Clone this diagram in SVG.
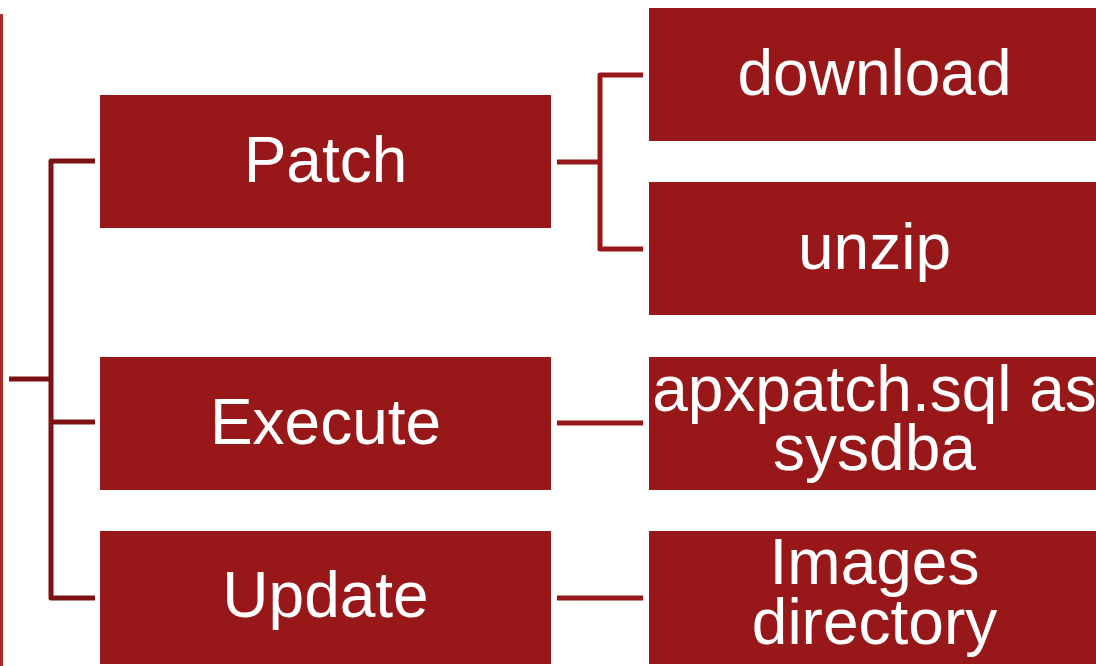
<svg xmlns="http://www.w3.org/2000/svg" width="1096" height="666" viewBox="0 0 1096 666">
<style>
.box{fill:#98181a}
.t{font-family:"Liberation Sans",Arial,sans-serif;font-size:64px;fill:#ffffff;text-anchor:middle}
.cl{fill:none;stroke:#7c1213;stroke-width:5;stroke-linejoin:round}
.cr{fill:none;stroke:#98181a;stroke-width:5;stroke-linejoin:round}
</style>
<rect x="0" y="0" width="1096" height="666" fill="#ffffff"/>
<g id="root"><rect x="0" y="14" width="3" height="652" fill="#a82a2a"/></g>
<g id="connectors">
<path class="cl" d="M9 379 H51 M95 161 H51 V598 H95 M51 422 H95"/>
<path class="cr" d="M557 162 H600 M643 75 H600 V249 H643"/>
<path class="cr" d="M557 423 H643"/>
<path class="cr" d="M557 598 H643"/>
</g>
<g id="patch"><rect class="box" x="100" y="95" width="451" height="133"/><text class="t" x="325.5" y="182">Patch</text></g>
<g id="execute"><rect class="box" x="100" y="357" width="451" height="133"/><text class="t" x="325.5" y="444">Execute</text></g>
<g id="update"><rect class="box" x="100" y="531" width="451" height="133"/><text class="t" x="325.5" y="617">Update</text></g>
<g id="download"><rect class="box" x="649" y="8" width="451" height="133"/><text class="t" x="874.5" y="95">download</text></g>
<g id="unzip"><rect class="box" x="649" y="182" width="451" height="133"/><text class="t" x="874.5" y="269">unzip</text></g>
<g id="apxpatch"><rect class="box" x="649" y="357" width="451" height="133"/><text class="t" x="874.5" y="411">apxpatch.sql as</text><text class="t" x="874.5" y="470">sysdba</text></g>
<g id="images"><rect class="box" x="649" y="531" width="451" height="133"/><text class="t" x="874.5" y="584">Images</text><text class="t" x="874.5" y="644">directory</text></g>
</svg>
